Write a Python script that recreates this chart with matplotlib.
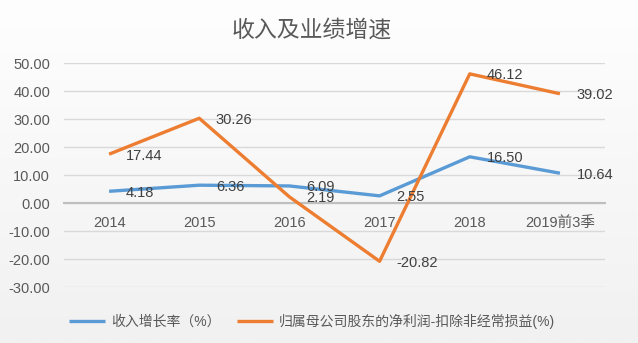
import matplotlib
matplotlib.use("Agg")
import matplotlib.pyplot as plt
import numpy as np
from matplotlib.colors import LinearSegmentedColormap

plt.rcParams['font.family'] = ['Liberation Sans', 'Noto Sans CJK SC', 'DejaVu Sans']

categories = ['2014', '2015', '2016', '2017', '2018', '2019前3季']
revenue_growth = [4.18, 6.36, 6.09, 2.55, 16.50, 10.64]
profit_growth = [17.44, 30.26, 2.19, -20.82, 46.12, 39.02]
series_names = ['收入增长率（%）', '归属母公司股东的净利润-扣除非经常损益(%)']
title = '收入及业绩增速'

blue = '#5B9BD5'
orange = '#ED7D31'
txt = '#404040'

fig = plt.figure(figsize=(6.38, 3.43), dpi=100)
bg = fig.add_axes([0, 0, 1, 1], zorder=-10)
grad = np.linspace(0, 1, 256).reshape(-1, 1)
cmap = LinearSegmentedColormap.from_list('bg', ['#fefefe', '#f1f1f1'])
bg.imshow(grad, aspect='auto', cmap=cmap, extent=[0, 1, 0, 1])
bg.axis('off')

ax = fig.add_axes([64/638, 1-287/343, (605-64)/638, (287-63)/343])
ax.patch.set_alpha(0)
x = np.arange(len(categories))
ax.plot(x, revenue_growth, color=blue, lw=2.4, label=series_names[0], solid_capstyle='butt', zorder=3)
ax.plot(x, profit_growth, color=orange, lw=2.4, label=series_names[1], solid_capstyle='butt', zorder=3)

for xi, v in zip(x, revenue_growth):
    ax.annotate(f'{v:.2f}', (xi, v), xytext=(12, -1), textcoords='offset points',
                ha='left', va='center', fontsize=10.5, color=txt, zorder=4)
for xi, v in zip(x, profit_growth):
    ax.annotate(f'{v:.2f}', (xi, v), xytext=(12, -1), textcoords='offset points',
                ha='left', va='center', fontsize=10.5, color=txt, zorder=4)

ax.set_xlim(-0.5, len(categories) - 0.5)
ax.set_ylim(-30, 50)
ax.set_yticks(np.arange(-30, 51, 10))
ax.set_yticklabels([f'{t:.2f}' for t in np.arange(-30, 51, 10)])
ax.grid(axis='y', color='#d9d9d9', lw=1)
ax.set_axisbelow(True)
for s in ['top', 'right', 'left']:
    ax.spines[s].set_visible(False)
ax.spines['bottom'].set_position(('data', 0))
ax.spines['bottom'].set_color('#bfbfbf')
ax.spines['bottom'].set_linewidth(1.5)
ax.set_xticks(x)
ax.set_xticklabels(categories)
ax.tick_params(axis='x', length=0, pad=9, labelsize=10.5, labelcolor='#595959')
ax.tick_params(axis='y', length=0, pad=10, labelsize=10.5, labelcolor='#595959')

fig.text(312/638, 1-30/343, title, ha='center', va='center', fontsize=16.5, color='#595959')

leg = fig.legend(loc='center', bbox_to_anchor=(312/638, 1-321/343), ncol=2, frameon=False,
                 fontsize=10, handlelength=2.6, columnspacing=1.2, handletextpad=0.4)
for t in leg.get_texts():
    t.set_color('#595959')

fig.savefig('out.png', dpi=100)
